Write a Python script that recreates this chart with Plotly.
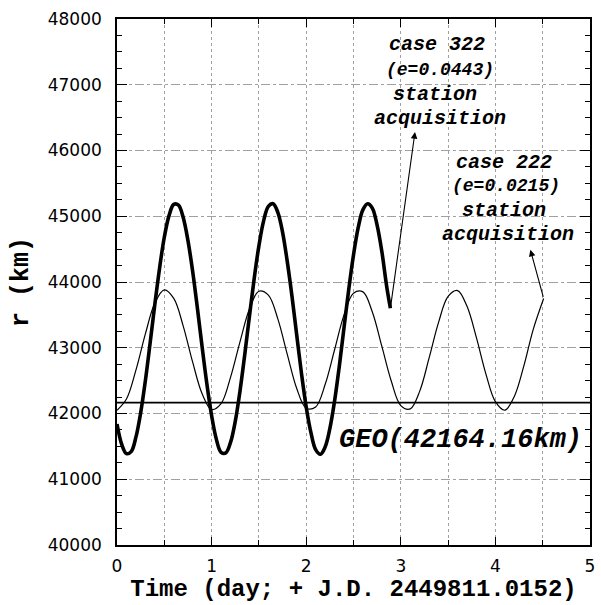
import plotly.graph_objects as go

# ---- data ----
t_322 = [0.00, 0.05, 0.10, 0.15, 0.20, 0.25, 0.30, 0.35, 0.40, 0.45,
         0.50, 0.55, 0.60, 0.65, 0.70, 0.75, 0.80, 0.85, 0.90, 0.95,
         1.00, 1.05, 1.10, 1.15, 1.20, 1.25, 1.30, 1.35, 1.40, 1.45,
         1.50, 1.55, 1.60, 1.65, 1.70, 1.75, 1.80, 1.85, 1.90, 1.95,
         2.00, 2.05, 2.10, 2.15, 2.20, 2.25, 2.30, 2.35, 2.40, 2.45,
         2.50, 2.55, 2.60, 2.65, 2.70, 2.75, 2.80, 2.85, 2.89]
r_322 = [41840, 41530, 41390, 41420, 41640, 42010, 42500, 43070, 43660, 44210,
         44680, 45010, 45180, 45170, 44980, 44630, 44160, 43600, 43010, 42450,
         41970, 41610, 41410, 41400, 41560, 41880, 42340, 42890, 43480, 44050,
         44550, 44930, 45150, 45190, 45060, 44760, 44310, 43780, 43190, 42610,
         42100, 41710, 41450, 41380, 41490, 41770, 42190, 42720, 43310, 43890,
         44410, 44830, 45100, 45190, 45120, 44860, 44460, 43940, 43600]

t_222 = [0.0, 0.1, 0.2, 0.3, 0.4, 0.5, 0.6, 0.7, 0.8, 0.9,
         1.0, 1.1, 1.2, 1.3, 1.4, 1.5, 1.6, 1.7, 1.8, 1.9,
         2.0, 2.1, 2.2, 2.3, 2.4, 2.5, 2.6, 2.7, 2.8, 2.9,
         3.0, 3.1, 3.2, 3.3, 3.4, 3.5, 3.6, 3.7, 3.8, 3.9,
         4.0, 4.1, 4.2, 4.3, 4.4, 4.51]
r_222 = [42050, 42220, 42660, 43210, 43680, 43880, 43750, 43330, 42780, 42300,
         42060, 42150, 42550, 43090, 43590, 43860, 43800, 43440, 42900, 42380,
         42080, 42100, 42440, 42970, 43500, 43830, 43850, 43540, 43020, 42490,
         42120, 42070, 42340, 42850, 43390, 43780, 43870, 43630, 43150, 42600,
         42180, 42050, 42260, 42720, 43280, 43750]

geo_r = 42164.16
x_ticks = [0, 1, 2, 3, 4, 5]
y_ticks = [40000, 41000, 42000, 43000, 44000, 45000, 46000, 47000, 48000]

fig = go.Figure()
fig.add_trace(go.Scatter(x=[0, 5], y=[geo_r, geo_r], mode="lines",
                         line=dict(color="black", width=1.8), showlegend=False))
fig.add_trace(go.Scatter(x=t_222, y=r_222, mode="lines", line_shape="spline",
                         line=dict(color="black", width=1.2), showlegend=False))
fig.add_trace(go.Scatter(x=t_322, y=r_322, mode="lines", line_shape="spline",
                         line=dict(color="black", width=3.6), showlegend=False))

mono = "Courier New, Liberation Mono, monospace"
ann_font = dict(family=mono, size=20, color="black", style="italic", weight="bold")
ann_font_s = dict(family=mono, size=18, color="black", style="italic", weight="bold")

annotations = []
def txt(x, y, s, f):
    annotations.append(dict(x=x, y=y, xref="x", yref="y", text=s, showarrow=False,
                            font=f, xanchor="center", yanchor="middle"))

txt(3.38, 47605, "case 322", ann_font)
txt(3.41, 47224, "(e=0.0443)", ann_font_s)
txt(3.36, 46859, "station", ann_font)
txt(3.41, 46494, "acquisition", ann_font)
txt(4.09, 45825, "case 222", ann_font)
txt(4.11, 45460, "(e=0.0215)", ann_font_s)
txt(4.09, 45095, "station", ann_font)
txt(4.13, 44730, "acquisition", ann_font)
txt(3.63, 41597, "GEO(42164.16km)", dict(family=mono, size=27, color="black",
                                           style="italic", weight="bold"))

annotations.append(dict(x=3.15, y=46280, ax=t_322[-1], ay=r_322[-1], xref="x", yref="y",
                        axref="x", ayref="y", text="", showarrow=True, arrowhead=2,
                        arrowsize=1.2, arrowwidth=1.1, arrowcolor="black"))
annotations.append(dict(x=4.37, y=44490, ax=t_222[-1], ay=r_222[-1], xref="x", yref="y",
                        axref="x", ayref="y", text="", showarrow=True, arrowhead=2,
                        arrowsize=1.2, arrowwidth=1.1, arrowcolor="black"))

tick_font = dict(family="DejaVu Sans", size=17, color="black")

fig.update_layout(
    width=601, height=605,
    margin=dict(l=117, r=6, t=19, b=60),
    paper_bgcolor="white", plot_bgcolor="white",
    annotations=annotations,
    xaxis=dict(range=[0, 5], tickvals=x_ticks, ticktext=[str(v) for v in x_ticks],
               ticks="inside", ticklen=8, tickwidth=1.2, tickcolor="black",
               showline=True, linecolor="black", linewidth=1.6, mirror="ticks",
               showgrid=True, gridcolor="#a0a0a0", gridwidth=0.8, griddash="dot",
               zeroline=False, tickfont=tick_font, ticklabelstandoff=5,
               minor=dict(dtick=0.5, tick0=0, ticks="inside", ticklen=5, tickwidth=1,
                          tickcolor="black", showgrid=True, gridcolor="#a0a0a0",
                          gridwidth=0.8, griddash="dot"),
               title=dict(text="Time (day; + J.D. 2449811.0152)", standoff=3,
                          font=dict(family=mono, size=24, color="black", weight="bold"))),
    yaxis=dict(range=[40000, 48000], tickvals=y_ticks, ticktext=[str(v) for v in y_ticks],
               ticks="inside", ticklen=10, tickwidth=1.2, tickcolor="black",
               showline=True, linecolor="black", linewidth=1.6, mirror="ticks",
               showgrid=True, gridcolor="#a0a0a0", gridwidth=0.8, griddash="dashdot",
               zeroline=False, tickfont=tick_font, ticklabelstandoff=10,
               minor=dict(dtick=250, tick0=40000, ticks="inside", ticklen=5, tickwidth=1,
                          tickcolor="black", showgrid=False),
               title=dict(text="r (km)", standoff=12,
                          font=dict(family=mono, size=25, color="black", weight="bold"))),
)

fig.write_html("out.html")
